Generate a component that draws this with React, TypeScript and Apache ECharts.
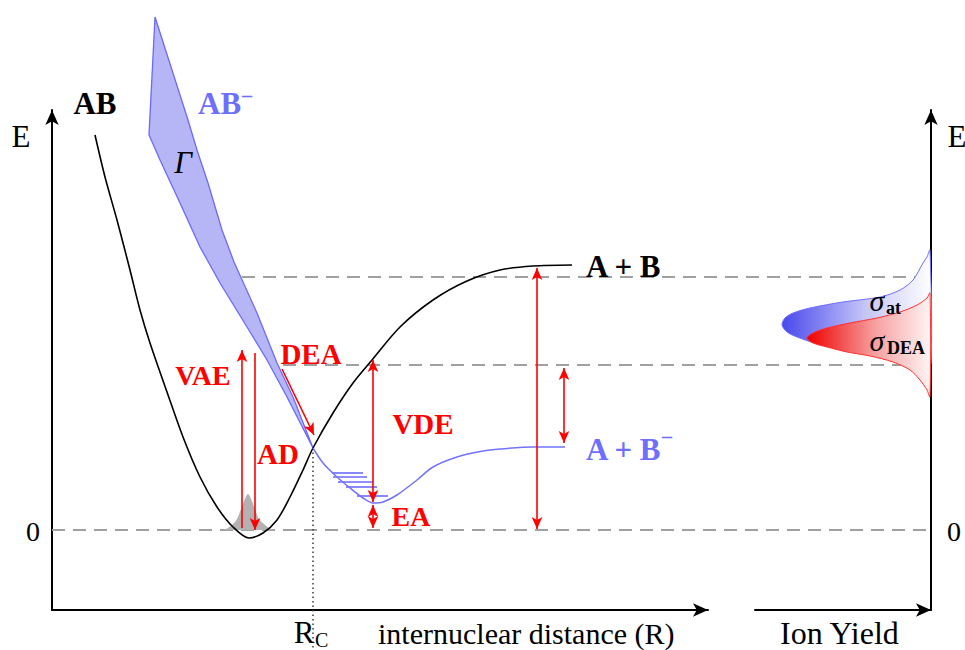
import React, { useEffect, useRef } from 'react';
import * as echarts from 'echarts';

// ---------- data (R = internuclear distance, E = energy, arbitrary units) ----------
// neutral AB potential curve
const abR = [0.43, 0.53, 0.65, 0.78, 0.88, 0.98, 1.15, 1.31, 1.48, 1.65, 1.81, 1.97, 2.11, 2.25, 2.38, 2.51, 2.61, 2.81, 3.01, 3.20, 3.48, 3.81, 4.15, 4.48, 4.81, 5.20];
const abE = [3.95, 3.53, 3.10, 2.60, 2.20, 1.87, 1.38, 0.93, 0.53, 0.23, 0.03, -0.08, -0.03, 0.10, 0.33, 0.60, 0.82, 1.17, 1.47, 1.70, 2.03, 2.30, 2.49, 2.60, 2.64, 2.65];

// anion AB- curve (bound part, beyond the crossing point)
const anR = [2.61, 2.71, 2.85, 2.98, 3.11, 3.21, 3.31, 3.45, 3.65, 3.81, 4.05, 4.31, 4.48, 4.81, 5.13];
const anE = [0.82, 0.67, 0.53, 0.42, 0.32, 0.27, 0.28, 0.35, 0.50, 0.63, 0.73, 0.79, 0.81, 0.83, 0.83];

// resonance band (width Gamma): upper edge (top -> crossing), lower edge (crossing -> top)
const bandUpR = [1.03, 1.36, 1.45, 1.56, 1.70, 1.82, 2.05, 2.25, 2.41, 2.61];
const bandUpE = [5.13, 4.10, 3.80, 3.47, 3.00, 2.68, 2.17, 1.67, 1.33, 0.82];
const bandLoR = [2.35, 2.15, 1.95, 1.68, 1.48, 1.28, 1.08, 0.97];
const bandLoE = [1.33, 1.70, 2.03, 2.47, 2.83, 3.27, 3.70, 3.95];

// ground-state vibrational wavefunction (grey)
const gaussR = [1.71, 1.76, 1.81, 1.85, 1.89, 1.93, 1.96, 1.99, 2.03, 2.07, 2.12, 2.17, 2.23];
const gaussE = [0.00, 0.02, 0.06, 0.11, 0.21, 0.31, 0.36, 0.31, 0.21, 0.11, 0.06, 0.02, 0.00];

// anion vibrational levels
const vibE = [0.57, 0.53, 0.48, 0.43, 0.34];
const vibR1 = [2.80, 2.81, 2.86, 2.94, 3.05];
const vibR2 = [3.11, 3.15, 3.21, 3.25, 3.36];

// dashed reference levels
const levelE = [0, 1.65, 2.53];
const levelStartR = [0, 2.31, 1.90];
const levelEndR = 8.79;

// crossing point R_C (dotted drop line down to the R label)
const crossR = 2.61;
const crossE = 0.82;
const dropE = -1.2;

// single-headed arrows: VAE (up), AD (down), DEA (diagonal)
const singleFromR = [1.90, 2.03, 2.30];
const singleFromE = [0.02, 1.77, 1.61];
const singleToR = [1.90, 2.03, 2.62];
const singleToE = [1.80, 0.00, 0.95];

// double-headed arrows: VDE, EA, D(A-B), EA(B)
const doubleR = [3.21, 3.21, 4.85, 5.12];
const doubleTopE = [1.70, 0.25, 2.62, 1.62];
const doubleBotE = [0.28, 0.02, 0.01, 0.87];

// ion yield curves (Y = yield, E = energy)
const atY = [0.01, 0.04, 0.08, 0.18, 0.31, 0.51, 0.88, 1.21, 1.38, 1.46, 1.49, 1.44, 1.34, 1.16, 0.81, 0.36, 0.06, 0.00];
const atE = [2.80, 2.73, 2.67, 2.50, 2.40, 2.33, 2.28, 2.22, 2.17, 2.12, 2.05, 1.98, 1.93, 1.87, 1.80, 1.73, 1.68, 1.66];
const deaY = [0.01, 0.04, 0.14, 0.31, 0.54, 0.81, 1.04, 1.18, 1.24, 1.18, 1.04, 0.84, 0.61, 0.38, 0.21, 0.11, 0.04, 0.01];
const deaE = [2.37, 2.32, 2.25, 2.18, 2.12, 2.07, 2.02, 1.97, 1.92, 1.87, 1.83, 1.78, 1.74, 1.68, 1.60, 1.50, 1.40, 1.33];

// ---------- styling ----------
const SERIF = '"Liberation Serif", "DejaVu Serif", serif';
const RED = '#ff0000';
const BLUE = '#6e6eff';

type Lbl = { t: string; x: number; y: number; s: number; w?: string; it?: boolean; c?: string; a?: string };
const labels: Lbl[] = [
  { t: 'E', x: 21, y: 136, s: 31 },
  { t: 'E', x: 957, y: 136, s: 31 },
  { t: '0', x: 33, y: 531, s: 28 },
  { t: '0', x: 954, y: 531, s: 28 },
  { t: 'AB', x: 95, y: 103, s: 31, w: 'bold' },
  { t: 'AB', x: 198, y: 103, s: 31, w: 'bold', c: BLUE, a: 'left' },
  { t: '–', x: 242, y: 95, s: 20, w: 'bold', c: BLUE, a: 'left' },
  { t: 'Γ', x: 183, y: 162, s: 31, it: true },
  { t: 'A + B', x: 586, y: 266, s: 31, w: 'bold', a: 'left' },
  { t: 'A + B', x: 586, y: 449, s: 31, w: 'bold', c: BLUE, a: 'left' },
  { t: '–', x: 662, y: 436, s: 20, w: 'bold', c: BLUE, a: 'left' },
  { t: 'VAE', x: 203, y: 375, s: 28, w: 'bold', c: RED },
  { t: 'DEA', x: 311, y: 354, s: 29, w: 'bold', c: RED },
  { t: 'VDE', x: 423, y: 424, s: 29, w: 'bold', c: RED },
  { t: 'AD', x: 278, y: 454, s: 29, w: 'bold', c: RED },
  { t: 'EA', x: 411, y: 516, s: 28, w: 'bold', c: RED },
  { t: 'R', x: 304, y: 632, s: 31 },
  { t: 'C', x: 315, y: 640, s: 20, a: 'left' },
  { t: 'internuclear distance (R)', x: 378, y: 633, s: 30, a: 'left' },
  { t: 'Ion Yield', x: 780, y: 633, s: 32, a: 'left' },
  { t: 'σ', x: 877, y: 300, s: 30, it: true },
  { t: 'at', x: 886, y: 308, s: 18, w: 'bold', a: 'left' },
  { t: 'σ', x: 877, y: 340, s: 30, it: true },
  { t: 'DEA', x: 887, y: 348, s: 18, w: 'bold', a: 'left' },
];

const zipPts = (xs: number[], ys: number[]) => xs.map((x, i) => [x, ys[i]]);

export default function App() {
  const ref = useRef<HTMLDivElement>(null);

  useEffect(() => {
    if (!ref.current) return;
    const chart = echarts.init(ref.current, undefined, { renderer: 'svg' });

    const axisLine = {
      show: true,
      onZero: false,
      symbol: ['none', 'arrow'],
      symbolSize: [10, 15],
      lineStyle: { color: '#000', width: 2 },
    };
    const hiddenParts = {
      axisTick: { show: false },
      axisLabel: { show: false },
      splitLine: { show: false },
    };

    const bandPts = zipPts(bandUpR, bandUpE).concat(zipPts(bandLoR, bandLoE));
    const atPts = zipPts(atY, atE);
    const deaPts = zipPts(deaY, deaE);

    const polySeries = (pts: number[][], axisIdx: number, style: any, smooth: number, z: number) => ({
      type: 'custom',
      xAxisIndex: axisIdx,
      yAxisIndex: axisIdx,
      clip: false,
      silent: true,
      z,
      data: [pts[0]],
      renderItem: (_p: any, api: any) => ({
        type: 'polygon',
        shape: { points: pts.map((p) => api.coord(p)), smooth },
        style,
      }),
    });

    // straight segments [r1, e1, r2, e2] drawn through the axes' scales (not clipped)
    const segSeries = (segs: number[][], style: any, z: number) => ({
      type: 'custom',
      xAxisIndex: 0,
      yAxisIndex: 0,
      clip: false,
      silent: true,
      z,
      data: segs,
      renderItem: (_p: any, api: any) => {
        const a = api.coord([api.value(0), api.value(1)]);
        const b = api.coord([api.value(2), api.value(3)]);
        return {
          type: 'line',
          shape: { x1: a[0], y1: a[1], x2: b[0], y2: b[1] },
          style,
        };
      },
    });

    const series: any[] = [];

    // dashed reference levels
    series.push(
      segSeries(
        levelE.map((e, i) => [levelStartR[i], e, levelEndR, e]),
        { stroke: '#a0a0a0', lineWidth: 2, lineDash: [13, 8], fill: null },
        1
      )
    );

    // resonance band
    series.push(
      polySeries(bandPts, 0, { fill: '#b6b6f6', stroke: '#6a6aff', lineWidth: 1.3 }, 0, 2)
    );

    // grey vibrational wavefunction
    series.push({
      type: 'line',
      xAxisIndex: 0,
      yAxisIndex: 0,
      silent: true,
      symbol: 'none',
      smooth: 0.4,
      z: 3,
      data: zipPts(gaussR, gaussE),
      lineStyle: { width: 0, color: '#b2b2b2' },
      areaStyle: { color: '#b2b2b2', opacity: 1, origin: 'auto' },
    });

    // AB curve
    series.push({
      type: 'line',
      xAxisIndex: 0,
      yAxisIndex: 0,
      silent: true,
      symbol: 'none',
      smooth: 0.3,
      z: 4,
      data: zipPts(abR, abE),
      lineStyle: { color: '#000', width: 1.6 },
    });

    // AB- curve
    series.push({
      type: 'line',
      xAxisIndex: 0,
      yAxisIndex: 0,
      silent: true,
      symbol: 'none',
      smooth: 0.3,
      z: 4,
      data: zipPts(anR, anE),
      lineStyle: { color: '#7373ff', width: 1.5 },
    });

    // vibrational levels
    series.push(
      segSeries(
        vibE.map((e, i) => [vibR1[i], e, vibR2[i], e]),
        { stroke: '#6a6aff', lineWidth: 1.6, fill: null },
        4
      )
    );

    // dotted R_C line
    series.push(
      segSeries([[crossR, crossE, crossR, dropE]], { stroke: '#444', lineWidth: 1.6, lineDash: [1.5, 3], fill: null }, 4)
    );

    // single arrows
    series.push({
      type: 'line',
      xAxisIndex: 0,
      yAxisIndex: 0,
      data: [],
      z: 6,
      markLine: {
        silent: true,
        symbol: ['none', 'arrow'],
        symbolSize: [8, 12],
        label: { show: false },
        emphasis: { disabled: true },
        lineStyle: { color: RED, width: 1.6, type: 'solid' },
        data: singleFromR.map((r, i) => [
          { coord: [r, singleFromE[i]] },
          { coord: [singleToR[i], singleToE[i]] },
        ]),
      },
    });

    // double arrows
    series.push({
      type: 'line',
      xAxisIndex: 0,
      yAxisIndex: 0,
      data: [],
      z: 6,
      markLine: {
        silent: true,
        symbol: ['arrow', 'arrow'],
        symbolSize: [8, 12],
        label: { show: false },
        emphasis: { disabled: true },
        lineStyle: { color: RED, width: 1.6, type: 'solid' },
        data: doubleR.map((r, i) => [{ coord: [r, doubleTopE[i]] }, { coord: [r, doubleBotE[i]] }]),
      },
    });

    // ion yield curves
    series.push(
      polySeries(
        atPts,
        1,
        {
          fill: new echarts.graphic.LinearGradient(0, 0, 1, 0, [
            { offset: 0, color: '#4848ec' },
            { offset: 0.55, color: '#c4c4f8' },
            { offset: 1, color: '#ffffff' },
          ]),
          stroke: '#7070ff',
          lineWidth: 1,
        },
        0.3,
        2
      )
    );
    series.push(
      polySeries(
        deaPts,
        1,
        {
          fill: new echarts.graphic.LinearGradient(0, 0, 1, 0, [
            { offset: 0, color: '#ee0000' },
            { offset: 0.55, color: '#f7a0a0' },
            { offset: 1, color: '#fff4f4' },
          ]),
          stroke: '#ff3030',
          lineWidth: 1,
        },
        0.3,
        3
      )
    );

    const graphic = labels.map((l) => ({
      type: 'text',
      x: l.x,
      y: l.y,
      z: 100,
      silent: true,
      style: {
        text: l.t,
        font: `${l.it ? 'italic ' : ''}${l.w || 'normal'} ${l.s}px ${SERIF}`,
        fill: l.c || '#000',
        align: l.a || 'center',
        verticalAlign: 'middle',
        textAlign: l.a || 'center',
        textVerticalAlign: 'middle',
      },
    }));

    chart.setOption({
      animation: false,
      backgroundColor: '#ffffff',
      grid: [
        { left: 52, top: 110, width: 656, height: 500 },
        { left: 755, top: 110, width: 176, height: 500 },
      ],
      xAxis: [
        { type: 'value', gridIndex: 0, min: 0, max: 6.56, axisLine, ...hiddenParts },
        { type: 'value', gridIndex: 1, min: 0, max: 1.76, inverse: true, axisLine, ...hiddenParts },
      ],
      yAxis: [
        { type: 'value', gridIndex: 0, min: -0.8, max: 4.2, axisLine, ...hiddenParts },
        { type: 'value', gridIndex: 1, position: 'right', min: -0.8, max: 4.2, axisLine, ...hiddenParts },
      ],
      series,
      graphic,
    });

    return () => chart.dispose();
  }, []);

  return (
    <div
      ref={ref}
      style={{ position: 'absolute', left: 0, top: 0, width: 965, height: 650, background: '#fff' }}
    />
  );
}
